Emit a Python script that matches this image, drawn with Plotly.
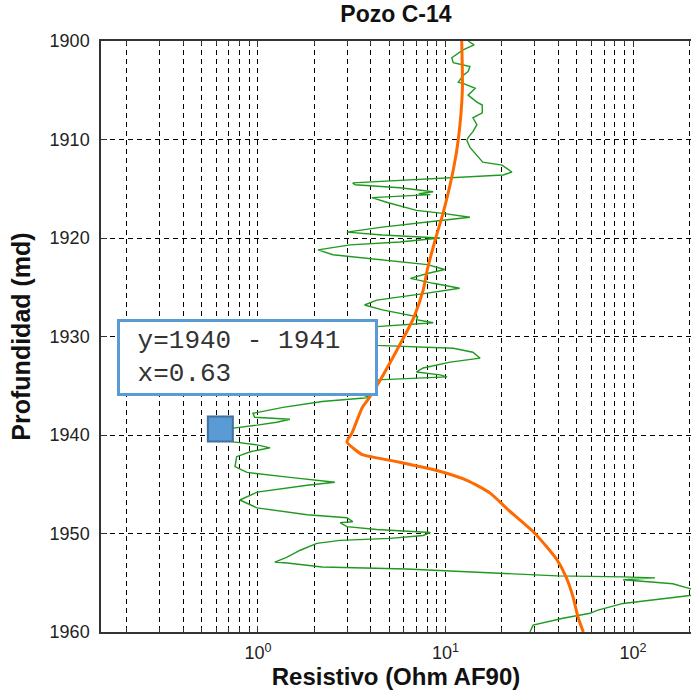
import plotly.graph_objects as go

# green resistivity log (depth md, ohm)
depth_af90 = [1900.0, 1900.4, 1900.9, 1901.7, 1902.2, 1902.6, 1903.1, 1903.5, 1904.2, 1904.3,
              1904.8, 1905.5, 1906.2, 1906.5, 1907.3, 1907.8, 1908.5, 1909.2, 1909.8, 1910.1,
              1910.8, 1911.6, 1912.3, 1912.6, 1913.3, 1913.6, 1913.9, 1914.1, 1914.4, 1914.6,
              1914.9, 1915.3, 1915.5, 1915.6, 1915.9, 1916.4, 1917.2, 1917.5, 1917.9, 1918.2,
              1918.9, 1919.4, 1919.7, 1920.0, 1920.4, 1920.7, 1921.2, 1921.7, 1922.2, 1922.7,
              1923.2, 1923.6, 1924.1, 1924.6, 1925.1, 1925.6, 1926.3, 1926.8, 1927.3, 1928.0,
              1928.3, 1928.6, 1929.0, 1929.8, 1930.6, 1930.9, 1931.2, 1931.6, 1932.2, 1932.6,
              1933.2, 1933.6, 1933.9, 1934.1, 1934.4, 1935.0, 1935.6, 1935.9, 1936.2, 1936.6,
              1937.2, 1937.8, 1938.2, 1938.4, 1938.7, 1939.0, 1939.3, 1940.0, 1940.7, 1941.0,
              1941.3, 1941.7, 1942.2, 1943.2, 1943.8, 1944.3, 1944.8, 1945.1, 1945.8, 1946.6,
              1947.4, 1948.1, 1948.4, 1948.8, 1948.9, 1949.3, 1949.6, 1949.9, 1950.2, 1950.5,
              1950.7, 1951.0, 1951.7, 1952.4, 1952.9, 1953.0, 1953.4, 1953.6, 1954.0, 1954.3,
              1954.4, 1954.5, 1954.7, 1955.1, 1955.6, 1955.9, 1956.3, 1957.1, 1957.8, 1958.1,
              1958.6, 1959.3, 1960.0]
res_af90 = [13.2, 14.2, 12.4, 10.8, 11.0, 13.5, 13.2, 12.4, 11.7, 12.4,
            14.4, 13.2, 14.7, 15.7, 15.7, 14.0, 14.7, 14.0, 13.2, 13.0,
            13.5, 14.7, 15.8, 20.0, 22.6, 20.3, 10.0, 5.7, 3.2, 3.3,
            5.7, 8.6, 7.2, 8.3, 4.05, 4.9, 7.0, 9.7, 13.5, 9.7,
            4.6, 2.98, 4.6, 9.35, 5.7, 3.1, 2.09, 2.51, 4.6, 8.0,
            9.9, 8.0, 6.5, 8.6, 11.9, 8.0, 4.3, 3.7, 4.6, 7.1,
            7.0, 8.6, 4.3, 2.6, 3.5, 4.3, 11.0, 14.0, 15.3, 10.6,
            7.6, 7.0, 9.35, 10.2, 4.3, 2.8, 3.2, 3.6, 3.96, 2.2,
            1.36, 0.94, 0.96, 1.48, 1.26, 0.99, 0.74, 0.63, 0.74, 0.99,
            1.16, 0.91, 0.77, 0.754, 0.874, 1.48, 2.57, 1.83, 0.99, 0.80,
            0.99, 1.83, 2.98, 3.2, 2.74, 2.98, 4.3, 8.3, 7.6, 5.06,
            2.74, 2.06, 1.68, 1.43, 1.23, 1.43, 2.2, 6.2, 20.3, 39.5,
            88.5, 131, 88.5, 163, 201, 230, 201, 88.5, 64.3, 59,
            42.3, 29.3, 28.2]

# orange smoothed curve
depth_trend = [1900, 1905, 1910, 1913.1, 1917.5, 1919.9, 1923.2, 1925.3, 1928.0, 1929.8,
               1932.1, 1934.7, 1936.4, 1937.2, 1939.8, 1940.7, 1941.5, 1942.0, 1942.7, 1943.6,
               1944.6, 1945.9, 1947.6, 1949.8, 1951.4, 1952.7, 1954.4, 1956.4, 1958.5, 1960]
res_trend = [12.2, 12.3, 11.7, 11.0, 9.7, 8.9, 8.0, 7.6, 6.8, 6.1,
             5.25, 4.4, 3.86, 3.6, 3.17, 2.98, 3.3, 3.6, 5.5, 9.0,
             13.0, 17.3, 21.6, 29.3, 34.8, 39.4, 43.9, 47.8, 50.9, 54.3]

# selected point
sel_x = [0.63]
sel_y = [1939.4]

x_tickvals = [1, 10, 100]
x_ticktext = ["10<sup>0</sup>", "10<sup>1</sup>", "10<sup>2</sup>"]
y_tickvals = [1900, 1910, 1920, 1930, 1940, 1950, 1960]
minor_vals = [m * 10 ** e for e in (-1, 0, 1, 2) for m in range(2, 10)]

fig = go.Figure()
fig.add_trace(go.Scatter(x=res_af90, y=depth_af90, mode="lines",
                         line=dict(color="#1f9a1f", width=1.4), hoverinfo="skip"))
fig.add_trace(go.Scatter(x=res_trend, y=depth_trend, mode="lines",
                         line=dict(color="#ff6a00", width=3, shape="spline", smoothing=0.6)))
fig.add_trace(go.Scatter(x=sel_x, y=sel_y, mode="markers",
                         marker=dict(symbol="square", size=25, color="#5b9bd5",
                                     line=dict(color="#41719c", width=2))))

fig.add_annotation(xref="paper", yref="paper", x=0.248, y=0.4645,
                   xanchor="center", yanchor="middle",
                   text="\u00a0y=1940 - 1941<br>\u00a0x=0.63", align="left",
                   font=dict(family="Courier New, Liberation Mono, monospace", size=26, color="#333"),
                   bgcolor="white", bordercolor="#5b9bd5", borderwidth=3, borderpad=2,
                   width=251, height=67, showarrow=False)

grid = dict(gridcolor="black", gridwidth=1, griddash="5px,4px")
fig.update_layout(
    width=691, height=698,
    margin=dict(l=101, r=0, t=41, b=66, autoexpand=False),
    paper_bgcolor="white", plot_bgcolor="white",
    showlegend=False,
    font=dict(family="Arial, Liberation Sans, sans-serif", color="#222"),
    title=dict(text="<b>Pozo C-14</b>", x=0.573, xanchor="center", y=0.98, yanchor="middle",
               font=dict(size=23, color="#111")),
    xaxis=dict(type="log", range=[-0.837, 2.309], automargin=False,
               tickvals=x_tickvals, ticktext=x_ticktext,
               ticks="inside", ticklen=6, tickcolor="#333", mirror="allticks",
               showline=True, linecolor="#333", linewidth=1.5,
               tickfont=dict(size=18), ticklabelstandoff=4,
               showgrid=True, **grid,
               minor=dict(tickvals=minor_vals, ticks="inside", ticklen=4, tickcolor="#333",
                          showgrid=True, **grid),
               title=dict(text="<b>Resistivo (Ohm AF90)</b>", font=dict(size=24, color="#111"),
                          standoff=6),
               zeroline=False),
    yaxis=dict(range=[1960, 1900], tickvals=y_tickvals, automargin=False,
               ticks="inside", ticklen=6, tickcolor="#333",
               showline=True, linecolor="#333", linewidth=1.5,
               tickfont=dict(size=18), ticklabelstandoff=6,
               showgrid=True, **grid,
               title=dict(text="<b>Profundidad (md)</b>", font=dict(size=25, color="#111"),
                          standoff=12),
               zeroline=False),
)

fig.write_html("out.html", config={"displayModeBar": False},
               post_script="document.body.style.margin='0';")
